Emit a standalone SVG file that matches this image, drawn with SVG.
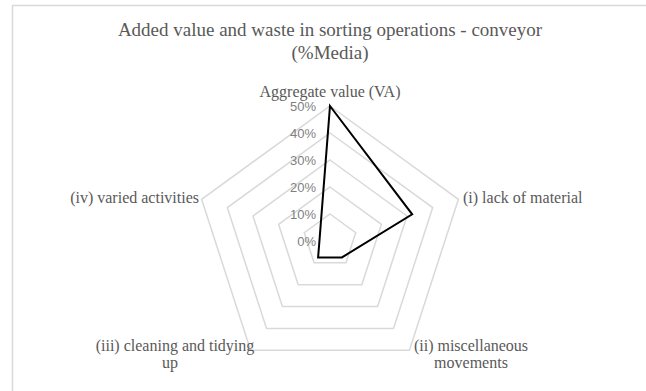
<svg xmlns="http://www.w3.org/2000/svg" width="646" height="391" viewBox="0 0 646 391">
<style>
.title{font-family:"Liberation Serif","Times New Roman",serif;font-size:19px;fill:#595959;text-anchor:middle}
.cat{font-family:"Liberation Serif","Times New Roman",serif;font-size:16px;fill:#595959}
.tick{font-family:"Liberation Sans",Arial,sans-serif;font-size:13px;fill:#7f7f7f;text-anchor:end}
.ring{fill:none;stroke:#d9d9d9;stroke-width:1.5}
.data{fill:none;stroke:#000;stroke-width:2;stroke-linejoin:miter}
</style>
<rect x="0" y="0" width="646" height="391" fill="#fff"/>
<path d="M12.5 391 V5.5 H646" fill="none" stroke="#d9d9d9" stroke-width="1.5"/>
<g id="title">
<text class="title" x="330" y="36">Added value and waste in sorting operations - conveyor</text>
<text class="title" x="330" y="59">(%Media)</text>
</g>
<g id="grid">
<polygon class="ring" points="330,214 355.7,232.7 345.9,262.8 314.1,262.8 304.3,232.7"/>
<polygon class="ring" points="330,187 381.4,224.3 361.8,284.7 298.2,284.7 278.6,224.3"/>
<polygon class="ring" points="330,160 407,216 377.6,306.5 282.4,306.5 253,216"/>
<polygon class="ring" points="330,133 432.7,207.6 393.5,328.4 266.5,328.4 227.3,207.6"/>
<polygon class="ring" points="330,106 458.4,199.3 409.4,350.2 250.6,350.2 201.6,199.3"/>
</g>
<g id="ticks">
<text class="tick" x="316" y="246">0%</text>
<text class="tick" x="316" y="219">10%</text>
<text class="tick" x="316" y="192">20%</text>
<text class="tick" x="316" y="165">30%</text>
<text class="tick" x="316" y="138">40%</text>
<text class="tick" x="316" y="111">50%</text>
</g>
<g id="connectors">
<polygon class="data" points="330,106 412.2,214.3 341.9,257.4 318.1,257.4 319.7,237.7"/>
</g>
<g id="node-va"><text class="cat" x="330" y="97" text-anchor="middle">Aggregate value (VA)</text></g>
<g id="node-i"><text class="cat" x="463" y="203">(i) lack of material</text></g>
<g id="node-ii"><text class="cat" text-anchor="middle"><tspan x="471" y="351">(ii) miscellaneous</tspan><tspan x="471" y="368">movements</tspan></text></g>
<g id="node-iii"><text class="cat" text-anchor="middle"><tspan x="175" y="351">(iii) cleaning and tidying</tspan><tspan x="170" y="368">up</tspan></text></g>
<g id="node-iv"><text class="cat" x="199" y="203" text-anchor="end">(iv) varied activities</text></g>
</svg>
